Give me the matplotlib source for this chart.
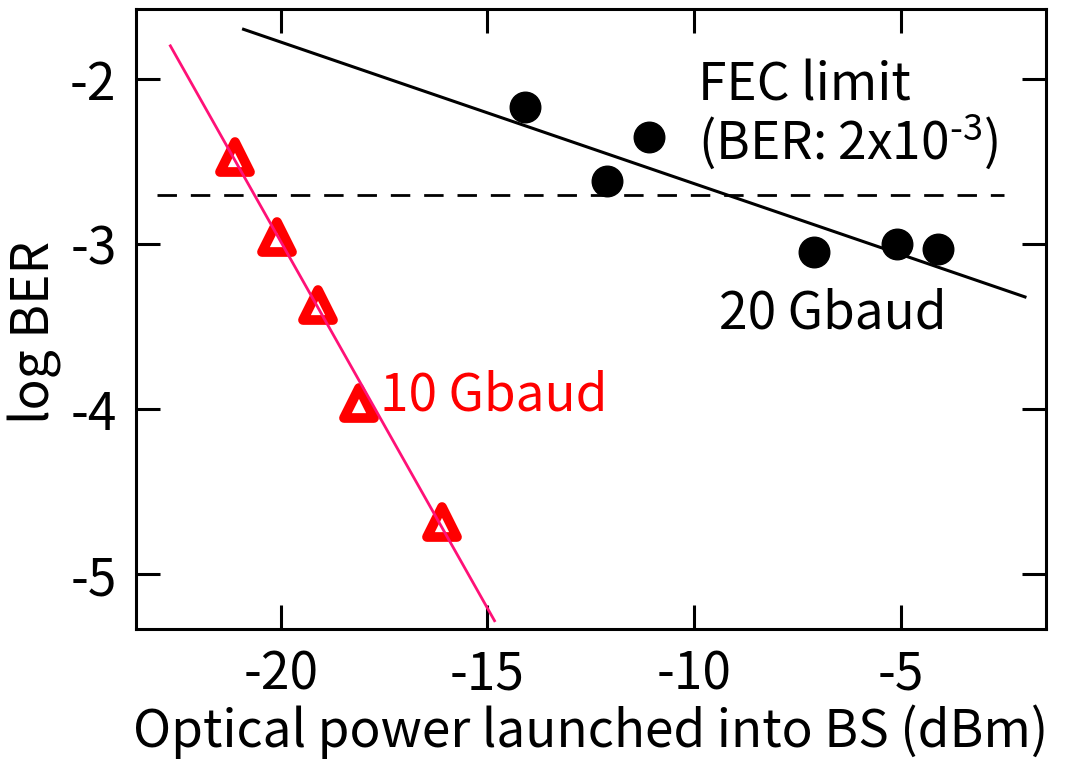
import matplotlib
matplotlib.use("Agg")
import matplotlib.pyplot as plt
from matplotlib.markers import MarkerStyle
import numpy as np

plt.rcParams['font.family'] = ['Noto Sans CJK JP', 'DejaVu Sans']
plt.rcParams['mathtext.default'] = 'regular'

# 20 Gbaud data
x20 = [-14.1, -12.1, -11.1, -7.1, -5.1, -4.1]
y20 = [-2.17, -2.62, -2.35, -3.05, -3.0, -3.03]
fit20_x = [-20.9, -2.0]
fit20_y = [-1.70, -3.32]

# 10 Gbaud data
x10 = [-21.1, -20.1, -19.1, -18.1, -16.1]
y10 = [-2.47, -2.96, -3.37, -3.96, -4.68]
fit10_x = [-22.67, -14.83]
fit10_y = [-1.80, -5.28]

fec_level = -2.70
fec_x = [-23.0, -2.5]

xticks = [-20, -15, -10, -5]
yticks = [-2, -3, -4, -5]

fig = plt.figure(figsize=(10.67, 7.65), dpi=100)
ax = fig.add_axes([0.1275, 0.1778, 0.8525, 0.8098])

ax.plot(fec_x, [fec_level, fec_level], color='black', lw=2.0, dashes=(7, 5))
ax.plot(x20, y20, 'o', color='black', ms=22, zorder=3)
ax.plot(fit20_x, fit20_y, color='black', lw=2.2, zorder=4)
tri = MarkerStyle('^', joinstyle='round')
ax.plot(x10, y10, linestyle='none', marker=tri, ms=21, mfc='none', mec='#ff0000',
        mew=7, zorder=3)
ax.plot(fit10_x, fit10_y, color='#ff1177', lw=2.0, zorder=4)

fs = 37
ax.text(-9.9, -2.04, 'FEC limit', fontsize=fs, ha='left', va='center')
ax.text(-9.9, -2.38, r'(BER: 2x10$^{\text{-}3}$)', fontsize=fs, ha='left', va='center')
ax.text(-9.4, -3.42, '20 Gbaud', fontsize=fs, ha='left', va='center')
ax.text(-17.6, -3.92, '10 Gbaud', fontsize=fs, ha='left', va='center', color='#ff0000')

ax.set_xlim(-23.5, -1.5)
ax.set_ylim(-5.33, -1.58)
ax.set_xticks(xticks)
ax.set_yticks(yticks)
ax.set_xticklabels([str(v) for v in xticks])
ax.set_yticklabels([str(v) for v in yticks])
ax.tick_params(direction='in', length=17, width=2.2, labelsize=fs,
               top=True, right=True, pad=14)
for s in ax.spines.values():
    s.set_linewidth(2.2)

ax.set_xlabel('Optical power launched into BS (dBm)', fontsize=fs, labelpad=2)
ax.set_ylabel('log BER', fontsize=fs)
ax.yaxis.set_label_coords(-0.081, 0.478)

fig.savefig('out.png', dpi=100)
